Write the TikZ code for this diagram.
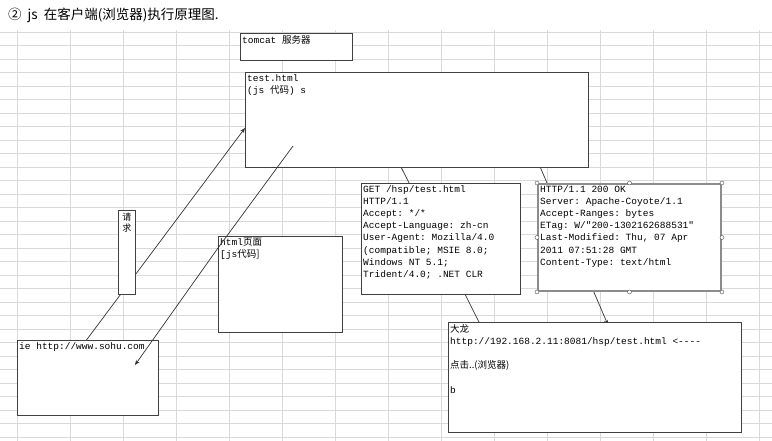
\documentclass[tikz,border=0pt]{standalone}
\usepackage{fontspec}
\usetikzlibrary{arrows.meta}
\setmonofont{Liberation Mono}
\newfontfamily\cjk{Noto Sans CJK SC}
\begin{document}
\begin{tikzpicture}[x=1pt,y=-1pt,
  box/.style={draw=black!75,line width=0.8pt,fill=white,anchor=north west,inner sep=0pt},
  txt/.style={anchor=north west,inner sep=2pt,align=left,font=\ttfamily\fontsize{9.5}{12.2}\selectfont},
  arr/.style={draw=black!80,line width=0.7pt,-{Stealth[length=5pt,width=4pt]}},
  ln/.style={draw=black!80,line width=0.7pt},
  handle/.style={circle,draw=black!70,fill=white,inner sep=0pt,minimum size=4pt}]
\useasboundingbox (0,0) rectangle (772,441);
\fill[white] (0,0) rectangle (772,441);
% grid
\foreach \x in {17,70,123,176,229,282,335,388,441,494,547,600,653,706,759}
  \draw[black!15,line width=0.6pt] (\x,30) -- (\x,441);
\foreach \y in {32,45.5,59,72.5,86,99.5,113,126.5,140,153.5,167,180.5,194,207.5,221,234.5,248,261.5,275,288.5,302,315.5,329,342.5,356,369.5,383,396.5,410,423.5,437}
  \draw[black!15,line width=0.6pt] (0,\y) -- (772,\y);
% title
\node[anchor=west,inner sep=0pt,font=\cjk\fontsize{13.5}{14}\selectfont] (title) at (8,15) {② \ js \ 在客户端(浏览器)执行原理图.};
% connectors behind boxes
\coordinate (c1) at (401,167);
\coordinate (c2) at (483,330);
\coordinate (c3) at (520,120);
\coordinate (c4) at (608,325);
\draw[ln] (c1) -- (c2);
\draw[arr] (c3) -- (c4);
% boxes
\node[box,minimum width=112,minimum height=27] (tomcat) at (240,33) {};
\node[txt] at (tomcat.north west) {tomcat {\cjk 服务器}};
\node[box,minimum width=343,minimum height=95] (test) at (245,72) {};
\node[txt] at (test.north west) {test.html\\({js \cjk 代码}) s};
% left connectors
\coordinate (r1) at (85,342);
\coordinate (r2) at (245,128);
\coordinate (s1) at (293,146);
\coordinate (s2) at (135,365);
\draw[arr] (r1) -- (r2);
\node[box,minimum width=17,minimum height=84] (req) at (118,210) {};
\node[anchor=north,inner sep=0pt,align=center,font=\cjk\fontsize{9}{11}\selectfont] at ([yshift=-3]req.north) {请\\求};
\node[box,minimum width=124,minimum height=96] (page) at (218,236) {};
\node[txt] at (page.north west) {html{\cjk 页面}\\{[js\cjk 代码]}};
\node[box,minimum width=141,minimum height=75] (ie) at (17,340) {};
\node[txt] at (ie.north west) {ie http://www.sohu.com};
\draw[arr] (s1) -- (page.north west |- 0,248) -- (s2);
\node[box,minimum width=159,minimum height=111] (get) at (361,183) {};
\begin{scope}
\clip (361,183) rectangle (520,294);
\node[txt] at (get.north west) {GET /hsp/test.html\\HTTP/1.1\\Accept: */*\\Accept-Language: zh-cn\\User-Agent: Mozilla/4.0\\(compatible; MSIE 8.0;\\Windows NT 5.1;\\Trident/4.0; .NET CLR};
\end{scope}
\node[box,draw=black!45,line width=2pt,minimum width=183,minimum height=107] (resp) at (537,183) {};
\node[txt] at ([xshift=1]resp.north west) {HTTP/1.1 200 OK\\Server: Apache-Coyote/1.1\\Accept-Ranges: bytes\\ETag: W/"200-1302162688531"\\Last-Modified: Thu, 07 Apr\\2011 07:51:28 GMT\\Content-Type: text/html};
\foreach \a in {north west,north,north east,east,south east,south,south west,west}
  \node[handle] at (resp.\a) {};
\node[box,minimum width=293,minimum height=110] (client) at (448,322) {};
\node[txt] at (client.north west) {{\cjk 大龙}\\http://192.168.2.11:8081/hsp/test.html <----\\\\{\cjk 点击..(浏览器)}\\\\b};
\end{tikzpicture}
\end{document}
